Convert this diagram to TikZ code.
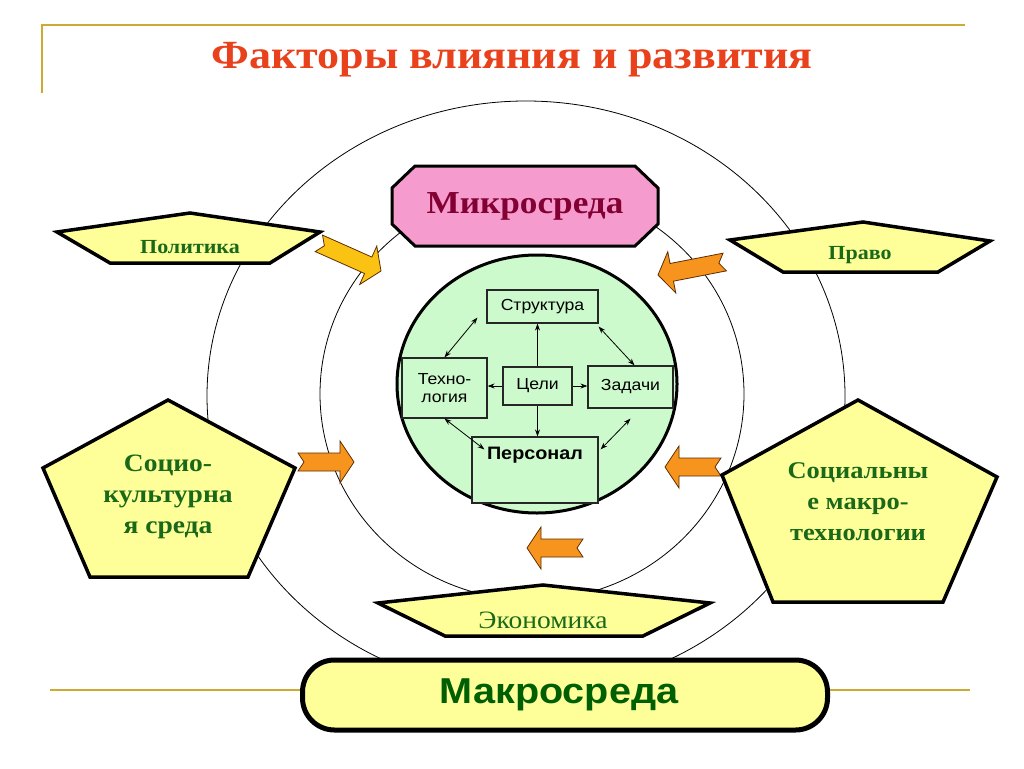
\documentclass[tikz,border=0pt]{standalone}
\usepackage{fontspec}
\setmainfont{Liberation Serif}[FakeStretch=1.1]
\setsansfont{Liberation Sans}[FakeStretch=1.1]
\usetikzlibrary{arrows.meta}
\definecolor{titlered}{RGB}{232,65,27}
\definecolor{goldline}{RGB}{204,170,51}
\definecolor{factoryellow}{RGB}{255,255,153}
\definecolor{factorgreen}{RGB}{25,105,25}
\definecolor{macrogreen}{RGB}{0,95,0}
\definecolor{micropink}{RGB}{245,155,205}
\definecolor{microred}{RGB}{130,0,50}
\definecolor{innergreen}{RGB}{204,250,204}
\definecolor{arroworange}{RGB}{247,148,30}
\definecolor{arrowgold}{RGB}{250,195,20}
\definecolor{arrowbrown}{RGB}{95,45,0}

\begin{document}
\begin{tikzpicture}[x=1pt,y=-1pt,
  goldrule/.style={draw=goldline, line width=2pt},
  ring/.style={draw=black, line width=0.8pt},
  factor/.style={draw=black, fill=factoryellow, line width=3.5pt, line join=miter},
  factortext/.style={text=factorgreen, align=center, font=\bfseries\fontsize{20}{24}\selectfont},
  bigfactortext/.style={text=factorgreen, align=center, font=\bfseries\fontsize{25}{31}\selectfont},
  box/.style={draw=black!85, fill=innergreen, line width=1.2pt, align=center, inner sep=0pt, font=\sffamily\fontsize{16}{18}\selectfont},
  link/.style={-{Stealth[length=7pt,width=5pt]}, line width=0.8pt},
  dlink/.style={{Stealth[length=7pt,width=5pt]}-{Stealth[length=7pt,width=5pt]}, line width=0.8pt},
  arrow len/.store in=\arrowlen, arrow len=56,
  arrow colour/.store in=\arrowcolour, arrow colour=arroworange,
  flow arrow/.pic={
    \filldraw[fill=\arrowcolour, draw=arrowbrown, line width=0.8pt, line join=miter]
      (0,0) -- (-14,21) -- (-14,9) -- (-\arrowlen,9) -- (-\arrowlen+6,0)
      -- (-\arrowlen,-9) -- (-14,-9) -- (-14,-21) -- cycle;
  }
]
\useasboundingbox[fill=white] (0,0) rectangle (1024,768);

\draw[goldrule] (42,93) -- (42,25) -- (965,25);
\draw[goldrule] (50,690) -- (970,690);
\node (title) at (512,60) {\color{titlered}\bfseries\fontsize{40}{44}\selectfont Факторы влияния и развития};

\draw[ring] (526,396) ellipse [x radius=319, y radius=295];
\draw[ring] (532,394) ellipse [x radius=212, y radius=206];

\pic[arrow len=68, arrow colour=arrowgold, rotate=-24] at (381,271) {flow arrow};
\pic[arrow len=68, rotate=191] at (658,275) {flow arrow};
\pic at (354,462) {flow arrow};
\pic[rotate=180] at (665,467) {flow arrow};
\pic[rotate=180] at (527,548) {flow arrow};

\filldraw[factor] (57,232) -- (190,213) -- (320,232) -- (270,263) -- (110,263) -- cycle;
\node[factortext] (politics) at (190,247) {Политика};
\filldraw[factor] (730,240) -- (863,222) -- (990,241) -- (938,272) -- (783,272) -- cycle;
\node[factortext] (law) at (860,255) {Право};
\filldraw[factor] (378,603) -- (543,585) -- (710,603) -- (643,636) -- (445,636) -- cycle;
\node[text=factorgreen, font=\fontsize{25}{28}\selectfont] (economy) at (543,620) {Экономика};
\filldraw[factor] (168,400) -- (295,468) -- (248,577) -- (90,577) -- (43,468) -- cycle;
\node[bigfactortext] (socio) at (168,497) {Социо-\\культурна\\я среда};
\filldraw[factor] (858,400) -- (997,477) -- (943,602) -- (773,602) -- (722,475) -- cycle;
\node[bigfactortext, font=\bfseries\fontsize{24}{31}\selectfont] (socialtech) at (858,502) {Социальны\\е макро-\\технологии};

\filldraw[draw=black, fill=micropink, line width=3pt, line join=miter] (415,166) -- (635,166) -- (658,188) -- (658,224) -- (635,246) -- (415,246) -- (392,224) -- (392,188) -- cycle;
\node[text=microred, font=\bfseries\fontsize{32}{36}\selectfont] (micro) at (525,206) {Микросреда};

\filldraw[draw=black, fill=innergreen, line width=3pt] (537,384) ellipse [x radius=140, y radius=129];
\node[box, minimum width=111pt, minimum height=33pt] (struct) at (542.5,306.5) {Структура};
\node[box, minimum width=85pt, minimum height=60pt] (tech) at (444.5,388) {Техно-\\логия};
\node[box, minimum width=69pt, minimum height=38pt] (goals) at (537.5,386) {Цели};
\node[box, minimum width=85pt, minimum height=42pt] (tasks) at (630.5,387) {Задачи};
\node[box, minimum width=126pt, minimum height=66pt,
  label={[name=stafftext, anchor=north, inner sep=0pt, yshift=-11pt, font=\sffamily\bfseries\fontsize{18}{20}\selectfont]north:Персонал}] (staff) at (535,470) {};

\draw[link] (goals.north) -- (goals.north |- struct.south);
\draw[link] (goals.west) -- (goals.west -| tech.east);
\draw[link] (goals.east) -- (goals.east -| tasks.west);
\draw[link] (goals.south) -- (goals.south |- staff.north);
\draw[dlink] (tech.north) -- ([xshift=-9pt, yshift=6pt]struct.south west);
\draw[dlink] ([yshift=-3pt]struct.south east) -- ([xshift=4pt]tasks.north);
\draw[dlink] (tech.south) -- ([xshift=13pt, yshift=-13pt]staff.north west);
\draw[dlink] ([yshift=-10pt]tasks.south) -- ([xshift=2pt, yshift=-13pt]staff.north east);

\node[draw=black, fill=factoryellow, line width=5pt, rounded corners=32pt, minimum width=525pt, minimum height=70pt,
  text=macrogreen, font=\sffamily\bfseries\fontsize{36}{40}\selectfont] (macro) at (565,695) {\hspace*{-12pt}Макросреда};
\end{tikzpicture}
\end{document}
